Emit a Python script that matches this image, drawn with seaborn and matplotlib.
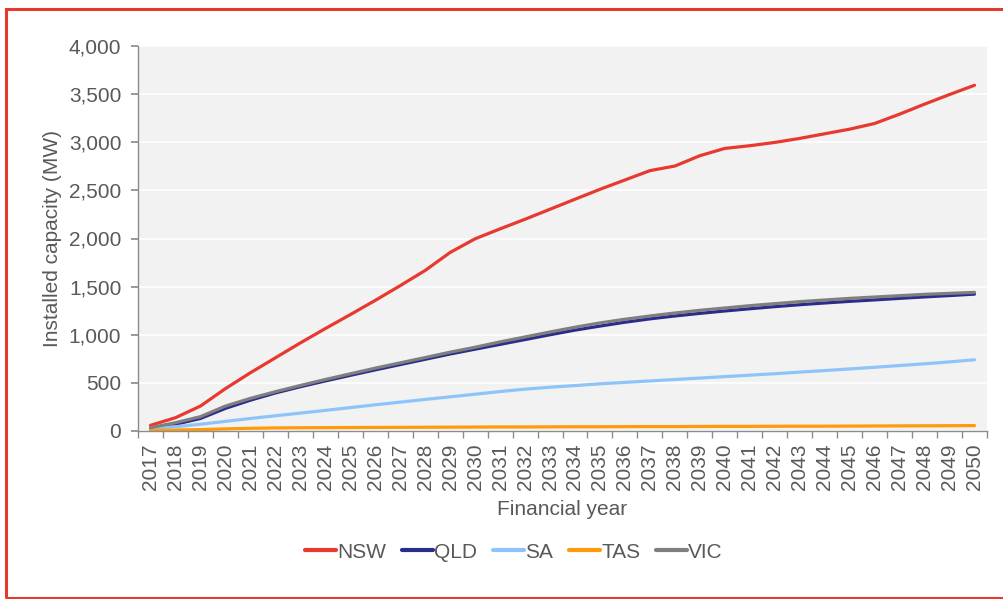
import pandas as pd
import matplotlib.pyplot as plt
import matplotlib.patches as patches
import seaborn as sns

# Data
years = list(range(2017, 2051))
nsw = [59, 138, 259, 440, 605, 760, 915, 1064, 1209, 1357, 1510, 1668, 1855, 1997,
       2100, 2200, 2304, 2408, 2511, 2608, 2705, 2753, 2860, 2936, 2964, 2998, 3040,
       3088, 3136, 3195, 3292, 3396, 3496, 3592]
qld = [25, 70, 130, 235, 320, 395, 460, 520, 578, 635, 690, 745, 800, 850,
       900, 950, 1000, 1048, 1090, 1130, 1165, 1195, 1222, 1247, 1270, 1292, 1312,
       1330, 1347, 1362, 1378, 1393, 1407, 1422]
sa = [25, 45, 70, 100, 130, 158, 186, 214, 243, 272, 300, 328, 355, 382,
      410, 435, 455, 472, 490, 505, 520, 535, 550, 565, 580, 595, 612,
      628, 645, 662, 680, 698, 718, 740]
tas = [5, 10, 15, 22, 28, 32, 34, 35, 36, 37, 38, 39, 40, 41,
       42, 42, 43, 44, 44, 45, 46, 46, 47, 48, 48, 49, 50,
       50, 51, 52, 53, 54, 55, 56]
vic = [35, 86, 149, 259, 339, 408, 473, 535, 594, 653, 708, 763, 819, 870,
       926, 977, 1029, 1078, 1123, 1161, 1195, 1226, 1254, 1278, 1302, 1323, 1344,
       1361, 1378, 1392, 1406, 1420, 1430, 1440]
states = ["NSW", "QLD", "SA", "TAS", "VIC"]
colors = ["#e8392f", "#2b2d8c", "#8fc4fa", "#ff9a0a", "#7f7f7f"]

df = pd.DataFrame({"year": years, "NSW": nsw, "QLD": qld, "SA": sa, "TAS": tas, "VIC": vic})
long_df = df.melt(id_vars="year", var_name="state", value_name="mw")

sns.set_theme(style="white")
plt.rcParams["font.family"] = ["Liberation Sans", "DejaVu Sans"]
text_col = "#595959"
axis_col = "#8c8c8c"
fs = 15

fig = plt.figure(figsize=(10.04, 5.99), dpi=100)
ax = fig.add_axes([138 / 1004, 1 - 431 / 599, (987 - 138) / 1004, (431 - 46) / 599])
ax.set_facecolor("#f2f2f2")

sns.lineplot(data=long_df, x="year", y="mw", hue="state", hue_order=states,
             palette=dict(zip(states, colors)), linewidth=2.3, ax=ax, legend=False)

ax.set_xlim(2016.5, 2050.5)
ax.set_ylim(0, 4000)
ax.set_yticks(range(0, 4001, 500))
ax.set_yticklabels([f"{v:,}" for v in range(0, 4001, 500)])
ax.set_xticks(years)
ax.set_xticklabels([str(y) for y in years], rotation=90)
ax.set_xticks([y - 0.5 for y in years] + [2050.5], minor=True)
ax.tick_params(axis="x", which="major", length=0, labelsize=fs, colors=text_col, pad=9)
ax.tick_params(axis="x", which="minor", length=5, color=axis_col, width=1, bottom=True)
ax.tick_params(axis="y", length=5, color=axis_col, labelsize=fs, labelcolor=text_col, left=True, pad=7)

ax.grid(axis="y", color="white", linewidth=1.2)
ax.set_axisbelow(True)
for s in ["top", "right"]:
    ax.spines[s].set_visible(False)
for s in ["left", "bottom"]:
    ax.spines[s].set_color(axis_col)
    ax.spines[s].set_linewidth(1)

ax.set_ylabel("Installed capacity (MW)", fontsize=fs, color=text_col, labelpad=5)
ax.set_xlabel("Financial year", fontsize=fs, color=text_col, labelpad=7)

handles = [plt.Line2D([], [], color=c, linewidth=3) for c in colors]
fig.legend(handles, states, loc="center", bbox_to_anchor=(514 / 1004, 1 - 552 / 599),
           ncol=5, frameon=False, fontsize=fs, handlelength=1.5, handletextpad=0.05,
           columnspacing=0.75, labelcolor=text_col)

# red frame around the figure
fig.patches.append(patches.Rectangle((6 / 1004, 1 - 598 / 599), 1.0, (598 - 9) / 599,
                                     transform=fig.transFigure, fill=False,
                                     edgecolor="#e8392f", linewidth=2.2))

plt.savefig("out.png", dpi=100)
plt.close()
